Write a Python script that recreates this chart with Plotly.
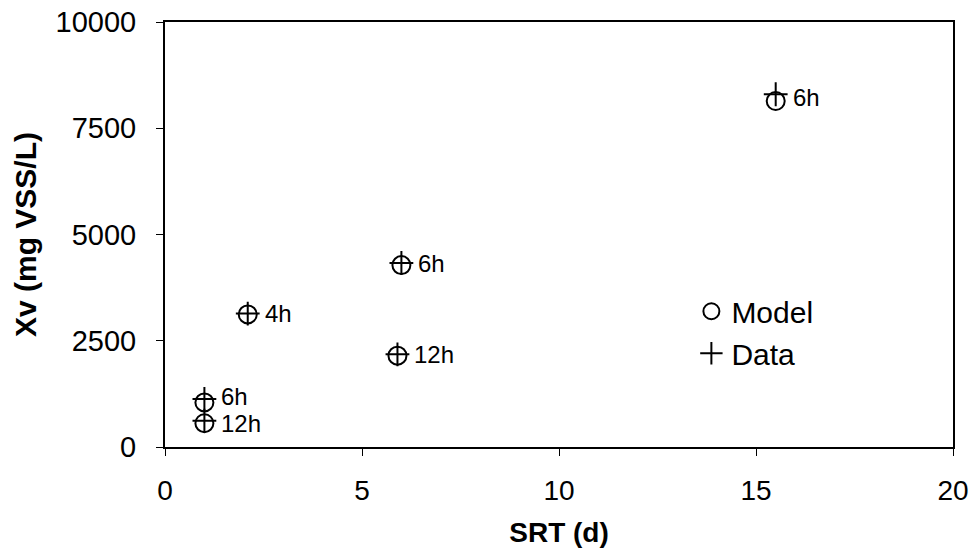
import plotly.graph_objects as go

srt = [1.0, 1.0, 2.1, 6.0, 5.9, 15.5]
model = [1050, 560, 3120, 4280, 2150, 8140]
data = [1130, 620, 3140, 4330, 2180, 8300]
labels = ["6h", "12h", "4h", "6h", "12h", "6h"]
label_y = [1200, 545, 3130, 4310, 2170, 8230]

FONT = "Liberation Sans, Arial"

fig = go.Figure()
fig.add_trace(go.Scatter(x=srt, y=model, mode="markers", name="Model",
                         marker=dict(symbol="circle-open", size=18, color="black",
                                     line=dict(width=2, color="black"))))
fig.add_trace(go.Scatter(x=srt, y=data, mode="markers", name="Data",
                         marker=dict(symbol="cross-thin-open", size=17, color="black",
                                     line=dict(width=2, color="black"))))

for xv, yv, t in zip(srt, label_y, labels):
    fig.add_annotation(x=xv, y=yv, text=t, showarrow=False, xanchor="left", yanchor="middle",
                       xshift=16, borderpad=0, font=dict(family=FONT, size=24, color="black"))

fig.update_layout(
    width=980, height=560,
    margin=dict(l=165, r=27, t=22, b=113, autoexpand=False),
    paper_bgcolor="white", plot_bgcolor="white",
    font=dict(family=FONT, color="black", size=26),
    showlegend=True,
    legend=dict(x=0.668, y=0.27, xanchor="left", yanchor="middle",
                bgcolor="rgba(0,0,0,0)", font=dict(family=FONT, size=30), tracegroupgap=0,
                itemsizing="trace"),
    xaxis=dict(range=[0, 20], tickvals=[0, 5, 10, 15, 20], showgrid=False, zeroline=False,
               showline=True, linecolor="black", linewidth=2, mirror=True,
               ticks="outside", ticklen=7, tickcolor="black", tickwidth=1,
               ticklabelstandoff=10, automargin=False,
               tickfont=dict(family=FONT, size=28),
               title=dict(text="<b>SRT (d)</b>", font=dict(family=FONT, size=28), standoff=18)),
    yaxis=dict(range=[0, 10000], tickvals=[0, 2500, 5000, 7500, 10000], tickformat="d",
               showgrid=False, zeroline=False, showline=True, linecolor="black", linewidth=2,
               mirror=True, ticks="outside", ticklen=7, tickcolor="black", tickwidth=1,
               ticklabelstandoff=14, automargin=False,
               tickfont=dict(family=FONT, size=29),
               title=dict(text="<b>Xv (mg VSS/L)</b>", font=dict(family=FONT, size=30), standoff=10)),
)
fig.write_html("out.html")
